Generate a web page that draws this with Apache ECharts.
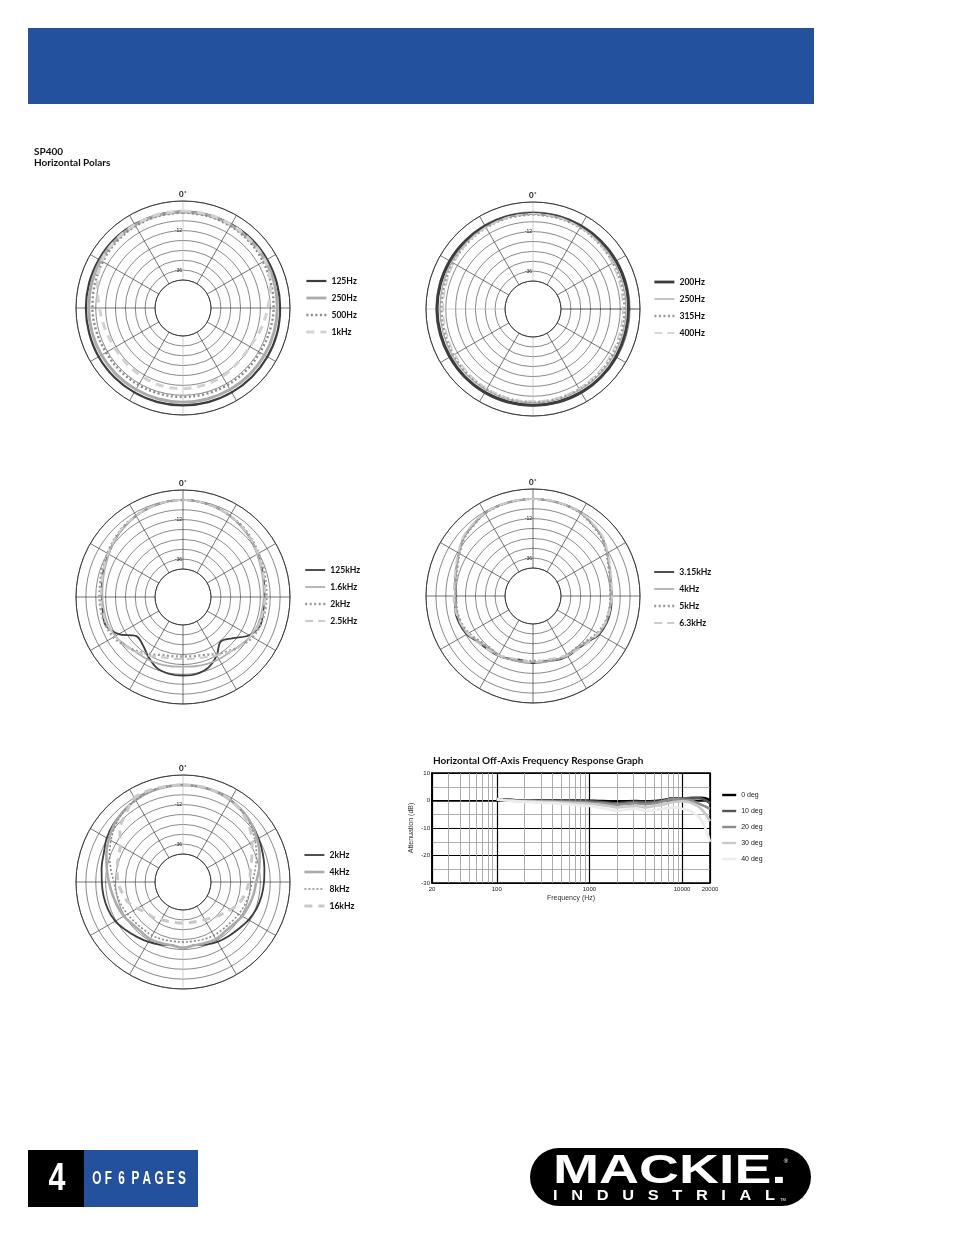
<!DOCTYPE html>
<html><head><meta charset="utf-8">
<script src="https://cdn.jsdelivr.net/npm/echarts@6/dist/echarts.min.js"></script>
<style>html,body{margin:0;padding:0;background:#fff}#c{width:954px;height:1235px}</style>
</head><body><div id="c"></div>
<script>
// ---------- DATA ----------
const anglesA = [0,15,30,45,60,75,90,105,120,135,150,165,180,195,210,225,240,255,270,285,300,315,330,345,360];
const anglesB = [0,10,20,30,40,50,60,70,80,90,100,110,120,130,140,150,160,170,180,190,200,210,220,230,240,250,260,270,280,290,300,310,320,330,340,350,360];

// Polar 1 (dB vs anglesA)
const p1Names = ['125Hz','250Hz','500Hz','1kHz'];
const p1_125Hz = [-0.5,-0.5,-0.3,0,0,0,0,0.2,0.2,0.2,0.2,0.2,0.2,0.2,0.2,0.2,0.2,0,0,0,0,0,-0.3,-0.5,-0.5];
const p1_250Hz = [-0.5,-0.6,-0.8,-1,-1.2,-1.5,-1.7,-1.8,-1.8,-1.8,-1.8,-1.8,-1.8,-1.8,-1.8,-1.8,-1.8,-1.8,-1.7,-1.5,-1.2,-1,-0.8,-0.6,-0.5];
const p1_500Hz = [-1,-1.2,-1.5,-2,-2.8,-3.5,-4,-4.5,-5,-5,-5,-5,-5,-5,-5,-5,-5,-4.5,-4,-3.5,-2.8,-2,-1.5,-1.2,-1];
const p1_1kHz  = [0,-0.2,-0.5,-1,-1.5,-4,-7.5,-10,-12,-12,-11,-10.5,-10,-10,-10.5,-11,-11,-10,-8.3,-5,-2,-1,-0.5,-0.2,0];

// Polar 2 (dB vs anglesA)
const p2Names = ['200Hz','250Hz','315Hz','400Hz'];
const p2_200Hz = [-0.8,-0.8,-0.8,-0.8,-0.8,-0.8,-1,-1,-0.8,-0.6,-0.5,-0.5,-0.5,-0.5,-0.5,-0.6,-0.8,-0.8,-0.7,-0.7,-0.7,-0.8,-0.8,-0.8,-0.8];
const p2_250Hz = [-1,-1.2,-1.5,-1.8,-2,-2.3,-2.5,-2.5,-2.5,-2.3,-2.2,-2,-2,-2,-2.2,-2.3,-2.5,-2.5,-2.5,-2.3,-2,-1.8,-1.5,-1.2,-1];
const p2_315Hz = [-1.5,-1.7,-2,-2.5,-3,-3.3,-3.5,-3.5,-3.3,-3,-2.8,-2.6,-2.5,-2.6,-2.8,-3,-3.3,-3.5,-3.5,-3.3,-3,-2.5,-2,-1.7,-1.5];
const p2_400Hz = [-1,-1.3,-1.8,-2.5,-3.5,-4.2,-4.5,-4.5,-4.2,-3.8,-3.3,-3,-3,-3,-3.3,-3.8,-4.2,-4.5,-4.5,-4.2,-3.5,-2.5,-1.8,-1.3,-1];

// Polar 3 (dB vs anglesB)
const p3Names = ['125kHz','1.6kHz','2kHz','2.5kHz'];
const p3_125kHz = [0,-0.3,-1,-2,-3.5,-5,-6.8,-8,-9,-9.5,-9.5,-9,-12.5,-20,-23.5,-18,-13.5,-11.5,-11.2,-11.5,-13,-17,-21,-22,-14,-9,-9.5,-9.8,-9,-8,-6.8,-5,-3.5,-2,-1,-0.3,0];
const p3_1k6Hz  = [0,-0.3,-1,-2,-3.5,-5,-7,-8.5,-9.5,-10,-10.3,-10.5,-11.5,-13.5,-15,-15.3,-15.8,-16.3,-16.7,-16.3,-15.8,-15.3,-15,-13.5,-11.5,-10.5,-10.3,-10,-9.5,-8.5,-7,-5,-3.5,-2,-1,-0.3,0];
const p3_2kHz   = [0,-0.3,-1,-2,-3,-4.5,-6,-7,-8,-8.3,-8.5,-9,-10.2,-13,-16,-19,-21.5,-22.5,-22.9,-22.5,-21.5,-19,-16,-13,-10.2,-9,-8.5,-8.3,-8,-7,-6,-4.5,-3,-2,-1,-0.3,0];
const p3_2k5Hz  = [0,-0.3,-1,-2,-3.2,-4.8,-6.5,-7.8,-8.8,-9.2,-9.5,-10,-11.5,-13,-15.5,-18,-20,-21,-21.4,-21,-20,-18,-15.5,-13,-11.5,-10,-9.5,-9.2,-8.8,-7.8,-6.5,-4.8,-3.2,-2,-1,-0.3,0];

// Polar 4 (dB vs anglesB)
const p4Names = ['3.15kHz','4kHz','5kHz','6.3kHz'];
const p4_3k15Hz = [0,-0.1,-0.3,-0.8,-2.5,-4,-7,-9.5,-11,-11.2,-11,-11.3,-12.5,-15.5,-17,-16.7,-17.5,-19,-18.3,-19.5,-18.5,-17,-16.5,-15.5,-12.5,-11.2,-11,-12.2,-11,-9.5,-7,-4,-2.5,-0.8,-0.3,-0.1,0];
const p4_4kHz   = [0,-0.1,-0.3,-0.8,-2.3,-4,-7,-9.5,-11,-11.5,-11.5,-12,-13,-16,-17.5,-17,-18,-18.5,-19,-18.5,-18,-17,-17.5,-16,-13,-12,-11.5,-11.8,-11,-9.5,-7,-4,-2.3,-0.8,-0.3,-0.1,0];
const p4_5kHz   = [0,-0.2,-0.5,-1,-2.8,-4.5,-7.5,-10,-11.5,-12,-12,-12.5,-14,-16.5,-18,-17.5,-18,-19,-19.5,-19,-18,-17.5,-18,-16.5,-14,-12.5,-12,-12.3,-11.5,-10,-7.5,-4.5,-2.8,-1,-0.5,-0.2,0];
const p4_6k3Hz  = [0,0,-0.2,-0.5,-2,-3.5,-6.5,-9,-10.5,-11,-11.5,-12,-13.5,-15,-16.5,-17.5,-19,-19.5,-18.5,-19.5,-19,-17.5,-16.5,-15,-13.5,-12,-11,-10.8,-10.5,-9,-6.5,-3.5,-2,-0.5,-0.2,0,0];

// Polar 5 (dB vs anglesB)
const p5Names = ['2kHz','4kHz','8kHz','16kHz'];
const p5_2kHz  = [0,-0.2,-0.6,-1.5,-3,-4.5,-6,-7.5,-8.8,-9.8,-10.5,-11.5,-13,-14.8,-16,-17,-18.5,-20,-19,-20,-18.5,-17,-15.5,-13.6,-11.5,-10.5,-10,-9.7,-8.8,-7.8,-5.5,-4,-3,-1.5,-0.6,-0.2,0];
const p5_4kHz  = [0,-0.2,-0.6,-1.5,-2.8,-4.5,-7,-9.5,-12,-14.5,-15.5,-16.5,-17.5,-19,-19.5,-19,-19.5,-20,-19,-20,-19.5,-19,-19.5,-19,-17.5,-16.5,-15.5,-14,-12,-9.5,-7,-4.5,-2.8,-1.5,-0.6,-0.2,0];
const p5_8kHz  = [0,-0.2,-0.6,-1.5,-3,-5.5,-8.5,-11.5,-14.5,-17,-18,-19,-20,-21,-21.5,-21.5,-22,-22.5,-22.5,-22.5,-22,-21.5,-21.5,-21,-20,-19,-18,-17,-14.5,-11.5,-8.5,-5.5,-3,-1.5,-0.6,-0.2,0];
const p5_16kHz = [0,0,-0.5,-1.5,-3.5,-6.5,-10.5,-14.5,-17.3,-19,-20.4,-22.5,-25.5,-28.5,-31,-32.5,-33.5,-34,-34,-34,-33.5,-32.5,-31,-30,-27,-23.5,-21.5,-19.5,-18.5,-17,-15,-9,-5,0,0.3,0,0];

// Off-axis frequency response
const freqs = [100,125,160,200,250,315,400,500,630,800,1000,1250,1600,2000,2500,3150,4000,5000,6300,8000,10000,12500,16000,20000];
const frNames = ['0 deg','10 deg','20 deg','30 deg','40 deg'];
const deg0  = [0.5,0.3,0.1,0,0,0,0,0,0,0,-0.1,-0.2,-0.3,-0.5,-0.3,-0.2,-0.3,-0.2,0.2,0.8,0.5,0.8,1.0,0.2];
const deg10 = [0.5,0.3,0.1,0,0,0,-0.1,-0.1,-0.2,-0.2,-0.3,-0.5,-0.8,-1.0,-0.7,-0.5,-0.6,-0.5,0,0.8,0.7,1.0,0.7,-1];
const deg20 = [0.5,0.2,0,-0.1,-0.2,-0.3,-0.3,-0.4,-0.5,-0.6,-0.7,-0.9,-1.2,-1.5,-1.2,-1.0,-1.3,-1.0,-0.3,0.5,0.3,0,-1.5,-3];
const deg30 = [0.3,0.1,-0.2,-0.3,-0.4,-0.5,-0.6,-0.7,-0.8,-1.0,-1.2,-1.5,-2.0,-2.5,-2.2,-2.0,-2.5,-2.0,-1.5,-0.5,-0.3,-0.8,-3,-7.5];
const deg40 = [0.5,0,-0.3,-0.5,-0.6,-0.8,-1.0,-1.2,-1.5,-1.8,-2.0,-2.5,-3.2,-3.8,-3.3,-3.0,-3.8,-3.5,-3.0,-2.5,-3,-4,-7,-15];
const minorFreqs = [30,40,50,60,70,80,90,200,300,400,500,600,700,800,900,2000,3000,4000,5000,6000,7000,8000,9000];
const dbTicks = [-12,-36];

// ---------- STYLES / LAYOUT ----------
const FONT = 'Lato, "Noto Sans", sans-serif';
const ARIAL = 'Arial, "Liberation Sans", sans-serif';
const polarCenters = [[183,308],[533,309],[183,597],[533,596],[183,882]];
const legendPos = [[305,276],[653,277],[304,565],[653,567],[303,850]];
const GL = '#bdbdbd', DK = '#3a3a3a';
const spokeColors = [
  [GL,DK,DK,DK,DK,DK,GL,DK,DK,DK,DK,DK],
  [GL,DK,DK,'#000',DK,DK,GL,DK,DK,GL,DK,DK],
  [DK,DK,DK,DK,DK,DK,DK,DK,DK,DK,DK,DK],
  [DK,DK,DK,DK,DK,DK,DK,DK,DK,DK,DK,DK],
  [GL,DK,DK,DK,DK,DK,GL,DK,DK,DK,DK,DK]
];
const curveStyles = [
  [{c:'#3d3d3d',w:2.2,t:'solid'},{c:'#ababab',w:3,t:'solid'},{c:'#8a8a8a',w:2.4,t:[2,2.5]},{c:'#d2d2d2',w:3,t:[8,6]}],
  [{c:'#3d3d3d',w:3,t:'solid'},{c:'#b0b0b0',w:1.5,t:'solid'},{c:'#999',w:2.4,t:[2,2.5]},{c:'#cbcbcb',w:1.5,t:[8,5]}],
  [{c:'#3d3d3d',w:1.8,t:'solid'},{c:'#b0b0b0',w:1.8,t:'solid'},{c:'#999',w:2.4,t:[2,2.5]},{c:'#cbcbcb',w:2,t:[8,5]}],
  [{c:'#3d3d3d',w:1.8,t:'solid'},{c:'#b0b0b0',w:1.8,t:'solid'},{c:'#999',w:2.4,t:[2,2.5]},{c:'#cbcbcb',w:2,t:[8,5]}],
  [{c:'#3d3d3d',w:1.8,t:'solid'},{c:'#ababab',w:2.6,t:'solid'},{c:'#8a8a8a',w:1.6,t:[2,2]},{c:'#c9c9c9',w:3,t:[8,6]}]
];
const polarSets = [
  {names:p1Names, angles:anglesA, curves:[p1_125Hz,p1_250Hz,p1_500Hz,p1_1kHz]},
  {names:p2Names, angles:anglesA, curves:[p2_200Hz,p2_250Hz,p2_315Hz,p2_400Hz]},
  {names:p3Names, angles:anglesB, curves:[p3_125kHz,p3_1k6Hz,p3_2kHz,p3_2k5Hz]},
  {names:p4Names, angles:anglesB, curves:[p4_3k15Hz,p4_4kHz,p4_5kHz,p4_6k3Hz]},
  {names:p5Names, angles:anglesB, curves:[p5_2kHz,p5_4kHz,p5_8kHz,p5_16kHz]}
];
const stripName = n => n.split('|')[1];

const polar = [], angleAxis = [], radiusAxis = [], legend = [], series = [];
polarSets.forEach((set, i) => {
  polar.push({center: polarCenters[i], radius: [28, 107]});
  angleAxis.push({
    polarIndex: i, type: 'value', min: 0, max: 360, interval: 30, startAngle: 90, clockwise: true,
    axisLine: {lineStyle: {color: '#333', width: 0.9}},
    axisTick: {show: false},
    axisLabel: {formatter: v => v === 0 ? '0˚' : '', fontSize: 8, fontWeight: 'bold', fontFamily: FONT, color: '#111', margin: 3},
    splitLine: {lineStyle: {color: spokeColors[i], width: 0.7}}
  });
  radiusAxis.push({
    polarIndex: i, type: 'value', min: -42, max: 6, interval: 6,
    axisLine: {show: false}, axisTick: {show: false},
    axisLabel: {formatter: v => dbTicks.indexOf(v) >= 0 ? String(v) : '', fontSize: 5, color: '#222', margin: 1},
    splitLine: {lineStyle: {color: '#3a3a3a', width: 0.6}}
  });
  const names = set.names.map(n => 'p' + (i + 1) + '|' + n);
  legend.push({
    orient: 'vertical', left: legendPos[i][0], top: legendPos[i][1], padding: 0,
    itemWidth: 20, itemHeight: 10, itemGap: 7,
    itemStyle: {opacity: 0},
    textStyle: {fontFamily: FONT, fontWeight: 'bold', fontSize: 8.6, color: '#111', lineHeight: 10},
    formatter: stripName, selectedMode: false,
    data: names.map((n, k) => {
      const st = curveStyles[i][k];
      return {name: n, lineStyle: {color: st.c, width: Math.min(st.w, 2.8), type: st.t}};
    })
  });
  set.curves.forEach((vals, k) => {
    const st = curveStyles[i][k];
    series.push({
      type: 'line', name: names[k], coordinateSystem: 'polar', polarIndex: i,
      data: vals.map((v, j) => [v, set.angles[j]]),
      smooth: 0.35, symbol: 'none', z: 3 + k,
      lineStyle: {color: st.c, width: st.w, type: st.t},
      itemStyle: {color: st.c}
    });
  });
});

// frequency response
const frColors = ['#000000','#555555','#8c8c8c','#c9c9c9','#ececec'];
const frData = [deg0, deg10, deg20, deg30, deg40];
series.push({
  type: 'line', name: 'grid-minor', xAxisIndex: 0, yAxisIndex: 0, data: [], z: 1, silent: true,
  markLine: {silent: true, symbol: 'none', label: {show: false},
    lineStyle: {color: '#9a9a9a', width: 0.8, type: 'solid'},
    data: minorFreqs.map(f => ({xAxis: f}))}
});
frData.forEach((vals, k) => {
  series.push({
    type: 'line', name: frNames[k], xAxisIndex: 0, yAxisIndex: 0,
    data: vals.map((v, j) => [freqs[j], v]),
    smooth: 0.4, symbol: 'none', z: 3 + k,
    lineStyle: {color: frColors[k], width: 2.6},
    itemStyle: {color: frColors[k]}
  });
});
legend.push({
  orient: 'vertical', left: 721, top: 791, padding: 0, itemWidth: 14, itemHeight: 8, itemGap: 8,
  itemStyle: {opacity: 0},
  textStyle: {fontFamily: ARIAL, fontSize: 7, color: '#222', lineHeight: 8},
  selectedMode: false,
  data: frNames.map((n, k) => ({name: n, lineStyle: {color: frColors[k], width: 2.4}}))
});

const option = {
  animation: false,
  backgroundColor: '#fff',
  polar, angleAxis, radiusAxis, legend,
  grid: {left: 432, top: 773, width: 278, height: 110, show: true, borderColor: '#000', borderWidth: 1.6, backgroundColor: 'transparent'},
  xAxis: {
    type: 'log', logBase: 10, min: 20, max: 20000,
    axisLine: {lineStyle: {color: '#000', width: 1.6}}, axisTick: {show: false},
    axisLabel: {fontSize: 6, color: '#222', margin: 3, fontFamily: ARIAL, formatter: v => String(Math.round(v))},
    splitLine: {show: true, lineStyle: {color: '#000', width: 1.2}},
    name: 'Frequency (Hz)', nameLocation: 'middle', nameGap: 12,
    nameTextStyle: {fontSize: 7, color: '#333', fontFamily: ARIAL}
  },
  yAxis: {
    type: 'value', min: -30, max: 10, interval: 10,
    axisLine: {show: true, lineStyle: {color: '#000', width: 1.6}}, axisTick: {show: false},
    axisLabel: {fontSize: 6, color: '#222', margin: 2, fontFamily: ARIAL},
    splitLine: {show: true, lineStyle: {color: '#000', width: 1.2}},
    minorTick: {show: false, splitNumber: 2},
    minorSplitLine: {show: true, lineStyle: {color: '#9a9a9a', width: 0.8}},
    name: 'Attenuation (dB)', nameLocation: 'middle', nameGap: 17, nameRotate: 90,
    nameTextStyle: {fontSize: 7, color: '#333', fontFamily: ARIAL}
  },
  graphic: [
    {type: 'rect', shape: {x: 28, y: 28, width: 786, height: 76}, style: {fill: '#24519d'}, silent: true},
    {type: 'text', x: 34, y: 147, style: {text: 'SP400', fill: '#111', font: 'bold 10px ' + FONT, verticalAlign: 'top'}},
    {type: 'text', x: 34, y: 158, style: {text: 'Horizontal Polars', fill: '#111', font: 'bold 10px ' + FONT, verticalAlign: 'top'}},
    {type: 'text', x: 433, y: 756, style: {text: 'Horizontal Off-Axis Frequency Response Graph', fill: '#111', font: 'bold 10px ' + FONT, verticalAlign: 'top'}},
    // footer
    {type: 'rect', shape: {x: 28, y: 1150, width: 56, height: 57}, style: {fill: '#000'}},
    {type: 'rect', shape: {x: 84, y: 1150, width: 114, height: 57}, style: {fill: '#24519d'}},
    {type: 'text', x: 57, y: 1180, scaleX: 0.8, style: {text: '4', fill: '#fff', font: 'bold 38px "Liberation Sans Narrow", "Liberation Sans", sans-serif', align: 'center', verticalAlign: 'middle'}},
    {type: 'text', x: 139, y: 1179, scaleX: 0.62, style: {text: 'O F  6  P A G E S', fill: '#fff', font: 'bold 19px "Liberation Sans Narrow", "Liberation Sans", sans-serif', align: 'center', verticalAlign: 'middle'}},
    // logo
    {type: 'rect', shape: {x: 530, y: 1148, width: 281, height: 58, r: 29}, style: {fill: '#000'}},
    {type: 'text', x: 553, y: 1172, scaleX: 1.35, style: {text: 'MACKIE.', fill: '#fff', font: 'bold 41px "Liberation Sans", Arial, sans-serif', align: 'left', verticalAlign: 'middle'}},
    {type: 'text', x: 786, y: 1161, style: {text: '®', fill: '#fff', font: '6px "Liberation Sans", Arial, sans-serif', align: 'center', verticalAlign: 'middle'}},
    {type: 'text', x: 553, y: 1196, scaleX: 1.17, style: {text: 'I   N   D   U   S   T   R   I   A   L', fill: '#fff', font: 'bold 14px "Liberation Sans", Arial, sans-serif', align: 'left', verticalAlign: 'middle'}},
    {type: 'text', x: 780, y: 1200, style: {text: 'TM', fill: '#fff', font: '4px "Liberation Sans", Arial, sans-serif', align: 'left', verticalAlign: 'middle'}}
  ],
  series
};
const chart = echarts.init(document.getElementById('c'));
chart.setOption(option);
</script>
</body></html>
